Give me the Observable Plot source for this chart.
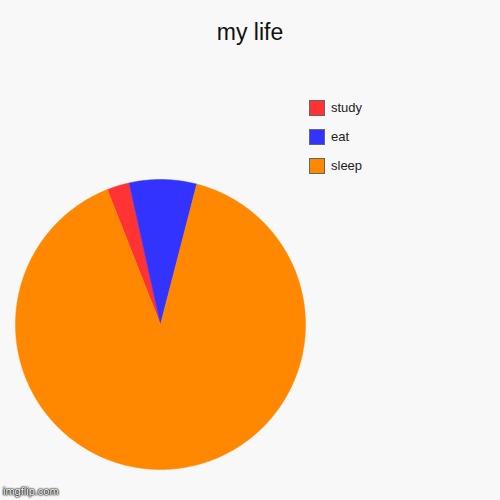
<!DOCTYPE html>
<html>
<head>
<meta charset="utf-8">
<script src="https://cdn.jsdelivr.net/npm/d3@7"></script>
<script src="https://cdn.jsdelivr.net/npm/@observablehq/plot@0.6"></script>
<style>
  html, body { margin: 0; padding: 0; background: #f8f8f8; }
  #wrap { position: relative; width: 500px; height: 500px; overflow: hidden; background: #f8f8f8; font-family: "Liberation Sans", Arial, sans-serif; }
  #title { position: absolute; left: 0; top: 18px; width: 500px; text-align: center; font-size: 23px; line-height: 28px; color: #111; }
  #chart { position: absolute; left: 0; top: 55px; }
  #legend { position: absolute; left: 309px; top: 93px; }
  .item { display: flex; align-items: center; height: 29px; font-size: 13px; color: #222; }
  .sw { width: 14px; height: 14px; border: 1px solid #666; margin-right: 6px; box-sizing: content-box; }
  #wm { position: absolute; left: 3px; bottom: 3px; font-size: 11px; color: #fff; text-shadow: 0 0 2px #000, 0 0 2px #000, 0 0 1px #000; font-family: "Liberation Sans", Arial, sans-serif; }
</style>
</head>
<body>
<div id="wrap">
  <div id="title">my life</div>
  <div id="chart"></div>
  <div id="legend"></div>
  <div id="wm">imgflip.com</div>
</div>
<script>
const labels = ["study", "eat", "sleep"];
const hours = [1, 3, 36];
const colors = ["#ff3333", "#3333ff", "#ff8800"];
const legendOrder = ["study", "eat", "sleep"];

const startDeg = -21.5;
const data = labels.map((label, i) => ({label, value: hours[i]}));
const arcs = d3.pie().value(d => d.value).sort(null)
  .startAngle(startDeg * Math.PI / 180)
  .endAngle(startDeg * Math.PI / 180 + 2 * Math.PI)(data);

const pts = [];
for (const a of arcs) {
  const lab = a.data.label;
  pts.push({label: lab, x: 0, y: 0});
  const n = Math.max(2, Math.ceil((a.endAngle - a.startAngle) / (Math.PI / 360)));
  for (let k = 0; k <= n; k++) {
    const t = a.startAngle + (a.endAngle - a.startAngle) * k / n;
    pts.push({label: lab, x: Math.sin(t), y: Math.cos(t)});
  }
  pts.push({label: lab, x: 0, y: 0});
}

const chart = Plot.plot({
  width: 500,
  height: 445,
  margin: 0,
  style: {background: "transparent", overflow: "visible"},
  x: {domain: [-1, 1], range: [15, 305], axis: null},
  y: {domain: [-1, 1], range: [414, 124], axis: null},
  color: {domain: labels, range: colors},
  marks: [
    Plot.line(pts, {x: "x", y: "y", z: "label", fill: "label", stroke: "label", strokeWidth: 0.5, curve: "linear"})
  ]
});
document.getElementById("chart").appendChild(chart);

const leg = document.getElementById("legend");
for (const lab of legendOrder) {
  const it = document.createElement("div");
  it.className = "item";
  const sw = document.createElement("div");
  sw.className = "sw";
  sw.style.background = colors[labels.indexOf(lab)];
  const tx = document.createElement("span");
  tx.textContent = lab;
  it.appendChild(sw);
  it.appendChild(tx);
  leg.appendChild(it);
}
</script>
</body>
</html>
